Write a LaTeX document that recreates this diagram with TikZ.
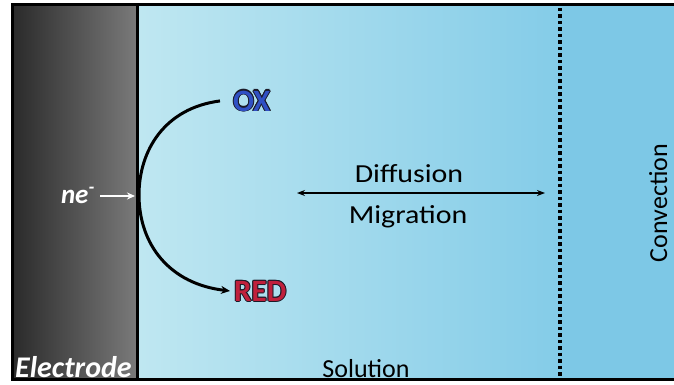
\documentclass[tikz,border=0pt]{standalone}
\usepackage{fontspec}
\setmainfont{Carlito}
\newfontfamily\widefont[FakeStretch=1.15]{Carlito}
\usetikzlibrary{arrows.meta}
\definecolor{elecdark}{HTML}{2A2A2A}
\definecolor{eleclight}{HTML}{7A7A7A}
\definecolor{solleft}{HTML}{BFE7F1}
\definecolor{solright}{HTML}{84CCE8}
\definecolor{convcol}{HTML}{7DC8E6}
\definecolor{oxblue}{HTML}{3050C4}
\definecolor{redred}{HTML}{C0203C}
\definecolor{outlcol}{HTML}{1A1A28}
\newcommand\outlinedtext[6]{%
  \foreach \dx/\dy [count=\k] in {-1/0,1/0,0/-1,0/1,-0.7/-0.7,0.7/-0.7,-0.7/0.7,0.7/0.7}{%
    \node[anchor=#3, inner sep=0, text=#5, xshift=\dx pt, yshift=\dy pt] (#1-o\k) at #2 {#6};}
  \node[anchor=#3, inner sep=0, text=#4] (#1) at #2 {#6};}
\begin{document}
\begin{tikzpicture}[x=1pt,y=-1pt,
  label26/.style={font=\widefont\fontsize{26}{28}\selectfont, inner sep=0},
  frameline/.style={line width=2.5pt}]
\useasboundingbox (0,0) rectangle (674,385);
% backgrounds
\shade[left color=elecdark,right color=eleclight] (12,4) rectangle (137.5,379);
\shade[left color=solleft,right color=solright] (137.5,4) rectangle (560,379);
\fill[convcol] (560,4) rectangle (676,379);
% frame
\draw[frameline] (677,4.5) -- (12.5,4.5) -- (12.5,379.5) -- (677,379.5);
\draw[line width=3pt] (137.5,4.5) -- (137.5,379.5);
\draw[line width=3.5pt, dash pattern=on 3.5pt off 3pt] (560,8) -- (560,378);
% texts
\node[label26, anchor=base] (diff) at (409,182) {Diffusion};
\node[label26, anchor=base] (mig) at (408,223) {Migration};
\node[font=\fontsize{26}{28}\selectfont, inner sep=0, anchor=base] (sol) at (366,377) {Solution};
\node[font=\fontsize{26}{28}\selectfont, inner sep=0, anchor=base, rotate=90] (conv) at (667,203) {Convection};
\node[font=\fontsize{30}{32}\selectfont\bfseries\itshape, text=white, inner sep=0, anchor=base west] (elec) at (15,377) {Electrode};
\node[font=\fontsize{27}{29}\selectfont\bfseries\itshape, text=white, inner sep=0, anchor=base east] (ne) at (95,203) {ne\textsuperscript{-}};
\outlinedtext{ox}{(233,111)}{base west}{oxblue}{outlcol}{\fontsize{31}{33}\selectfont\bfseries OX}
\outlinedtext{red}{(234,301)}{base west}{redred}{outlcol}{\fontsize{31}{33}\selectfont\bfseries RED}
% arrows
\coordinate (dl) at (297,193);
\coordinate (dr) at (545,193);
\draw[line width=1.8pt, {Stealth[length=8pt,width=6pt]}-{Stealth[length=8pt,width=6pt]}] (dl) -- (dr);
\coordinate (eb) at (135,196);
\draw[white, line width=2.5pt, -{Stealth[length=8pt,width=7pt]}] ([xshift=5pt]ne.east |- eb) -- (eb);
\draw[line width=3pt, -{Stealth[length=9pt,width=8pt]}]
  ([xshift=-13pt]ox.west) .. controls (165,108) and (139,150) .. (139,195)
  .. controls (139,245) and (170,284) .. ([xshift=-4pt]red.west);
\end{tikzpicture}
\end{document}
